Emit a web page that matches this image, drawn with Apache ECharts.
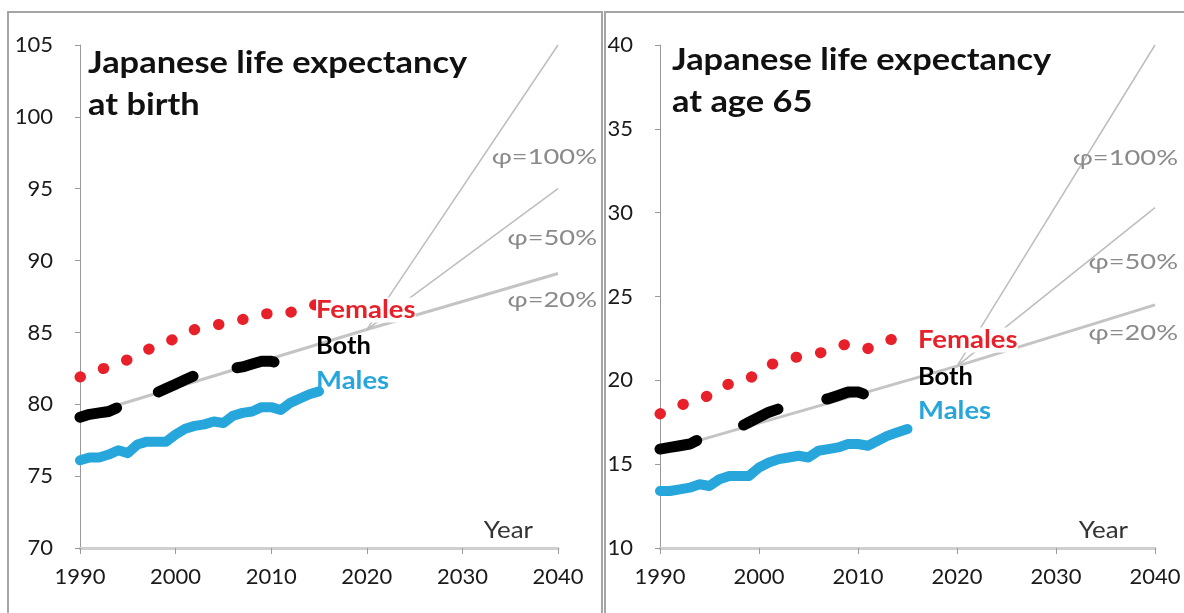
<!DOCTYPE html>
<html>
<head>
<meta charset="utf-8">
<script src="https://cdn.jsdelivr.net/npm/echarts@6/dist/echarts.min.js"></script>
<style>
html,body{margin:0;padding:0;background:#fff;}
#chart{width:1184px;height:613px;}
</style>
</head>
<body>
<div id="chart"></div>
<script>
// ---- Data ----
const years = [1990,1991,1992,1993,1994,1995,1996,1997,1998,1999,2000,2001,2002,2003,2004,2005,2006,2007,2008,2009,2010,2011,2012,2013,2014,2015];
const bothYears = [1990,1991,1992,1993,1994,1995,1996,1997,1998,1999,2000,2001,2002,2003,2004,2005,2006,2007,2008,2009,2010,2011];

const femalesBirth = [81.9,82.1,82.4,82.6,82.9,83.1,83.5,83.8,84.0,84.3,84.6,84.9,85.2,85.3,85.5,85.6,85.8,85.9,86.1,86.3,86.3,86.2,86.4,86.6,86.8,87.0];
const bothBirth    = [79.1,79.3,79.4,79.5,79.8,79.9,80.2,80.5,80.8,81.1,81.4,81.7,82.0,82.1,82.2,82.3,82.5,82.6,82.8,83.0,83.0,82.8];
const malesBirth   = [76.1,76.3,76.3,76.5,76.8,76.6,77.2,77.4,77.4,77.4,77.9,78.3,78.5,78.6,78.8,78.7,79.2,79.4,79.5,79.8,79.8,79.6,80.1,80.4,80.7,80.9];

const females65 = [18.0,18.3,18.5,18.7,18.9,19.1,19.5,19.8,19.9,20.1,20.5,20.9,21.1,21.3,21.4,21.5,21.6,21.8,22.0,22.2,22.1,21.9,22.2,22.4,22.5,22.6];
const both65    = [15.9,16.0,16.1,16.2,16.5,16.5,16.8,17.0,17.2,17.5,17.8,18.1,18.3,18.4,18.5,18.6,18.8,18.9,19.1,19.3,19.3,19.1];
const males65   = [13.4,13.4,13.5,13.6,13.8,13.7,14.1,14.3,14.3,14.3,14.8,15.1,15.3,15.4,15.5,15.4,15.8,15.9,16.0,16.2,16.2,16.1,16.4,16.7,16.9,17.1];

// projections (phi scenarios)
const projYears = [1990, 2020, 2040];
const phi20Birth  = [79.15, 85.2, 89.1];
const phi50Birth  = [null, 85.2, 95.0];
const phi100Birth = [null, 85.2, 105.0];
const phi20Age65  = [15.75, 20.85, 24.5];
const phi50Age65  = [null, 20.85, 30.3];
const phi100Age65 = [null, 20.85, 40.0];

const xTicks = [1990, 2000, 2010, 2020, 2030, 2040];
const yBirthRange = [70, 105];
const yAge65Range = [10, 40];

const titles = ['Japanese life expectancy\nat birth', 'Japanese life expectancy\nat age 65'];
const seriesNames = ['Females', 'Both', 'Males'];
const phiLabels = ['φ=100%', 'φ=50%', 'φ=20%'];

// ---- Helpers ----
const zip = (xs, ys) => xs.map((x, i) => [x, ys[i]]);
const FONT = 'Lato, "Open Sans", sans-serif';
const RED = '#e8202a', BLACK = '#000000', BLUE = '#27a6dc', GRAY = '#bdbdbd';

function panelSeries(idx, fem, both, male, p20, p50, p100, bothDash) {
  const base = {type: 'line', xAxisIndex: idx, yAxisIndex: idx, showSymbol: false, symbol: 'none', silent: true, connectNulls: false};
  return [
    Object.assign({}, base, {name: 'phi20', data: zip(projYears, p20), z: 2, lineStyle: {color: '#c4c4c4', width: 3}}),
    Object.assign({}, base, {name: 'phi50', data: zip(projYears, p50), z: 2, lineStyle: {color: GRAY, width: 1.5}}),
    Object.assign({}, base, {name: 'phi100', data: zip(projYears, p100), z: 2, lineStyle: {color: GRAY, width: 1.5}}),
    Object.assign({}, base, {name: 'Males', data: zip(years, male), z: 3, lineStyle: {color: BLUE, width: 10, cap: 'round', join: 'round'}}),
    Object.assign({}, base, {name: 'Both', data: zip(bothYears, both), z: 3, lineStyle: {color: BLACK, width: 11, type: bothDash, cap: 'round', join: 'round'}}),
    Object.assign({}, base, {name: 'Females', data: zip(years, fem), z: 3, lineStyle: {color: RED, width: 11, type: [0.5, 24.3], cap: 'round', join: 'round'}})
  ];
}

function xAxis(idx) {
  return {
    type: 'value', gridIndex: idx, min: xTicks[0], max: xTicks[xTicks.length - 1], interval: 10,
    axisLine: {show: true, lineStyle: {color: '#cfcfcf', width: 3}},
    axisTick: {show: true, length: 6, lineStyle: {color: '#9a9a9a', width: 1}},
    axisLabel: {color: '#1a1a1a', fontSize: 22, fontFamily: FONT, margin: 18, formatter: v => String(v)},
    splitLine: {show: false}
  };
}
function yAxis(idx, range) {
  return {
    type: 'value', gridIndex: idx, min: range[0], max: range[1], interval: 5,
    axisLine: {show: true, lineStyle: {color: '#9a9a9a', width: 1}},
    axisTick: {show: true, length: 5, lineStyle: {color: '#9a9a9a', width: 1}},
    axisLabel: {color: '#1a1a1a', fontSize: 22, fontFamily: FONT, margin: 27},
    splitLine: {show: false}
  };
}

function txt(x, y, text, opts, sx) {
  return {
    type: 'text', x: x, y: y, z: 10, silent: true, scaleX: sx || 1,
    style: Object.assign({text: text, fontFamily: FONT, verticalAlign: 'middle', align: 'left'}, opts)
  };
}

const chart = echarts.init(document.getElementById('chart'), null, {renderer: 'canvas'});

const TITLE = {fontSize: 31, fontWeight: 'bold', fill: '#111', lineHeight: 42};
const LAB = {fontSize: 25, fontWeight: 'bold'};
const PHI = {fontSize: 22, fill: '#8a8a8a', align: 'right'};

const graphics = [
  {type: 'rect', shape: {x: 8, y: 12, width: 594, height: 640}, z: 0, silent: true, style: {fill: null, stroke: '#a5a5a5', lineWidth: 2}},
  {type: 'rect', shape: {x: 605, y: 12, width: 640, height: 640}, z: 0, silent: true, style: {fill: null, stroke: '#a5a5a5', lineWidth: 2}},
  // titles
  txt(88, 84, titles[0], TITLE, 1.11),
  txt(672, 81, titles[1], TITLE, 1.11),
  // series labels left
  txt(316, 310, seriesNames[0], Object.assign({fill: RED, backgroundColor: '#fff'}, LAB), 1.1),
  txt(316, 346, seriesNames[1], Object.assign({fill: BLACK}, LAB), 1.02),
  txt(316, 381, seriesNames[2], Object.assign({fill: BLUE}, LAB), 1.1),
  // series labels right
  txt(918, 340, seriesNames[0], Object.assign({fill: RED, backgroundColor: '#fff'}, LAB), 1.1),
  txt(918, 377, seriesNames[1], Object.assign({fill: BLACK}, LAB), 1.02),
  txt(918, 411, seriesNames[2], Object.assign({fill: BLUE}, LAB), 1.1),
  // phi labels left
  txt(597, 157, phiLabels[0], PHI, 1.24),
  txt(597, 238, phiLabels[1], PHI, 1.24),
  txt(597, 300, phiLabels[2], PHI, 1.24),
  // phi labels right
  txt(1178, 158, phiLabels[0], PHI, 1.24),
  txt(1178, 262, phiLabels[1], PHI, 1.24),
  txt(1178, 333, phiLabels[2], PHI, 1.24),
  // Year labels
  txt(533, 530, 'Year', {fontSize: 24, fill: '#333', align: 'right'}, 1.08),
  txt(1128, 530, 'Year', {fontSize: 24, fill: '#333', align: 'right'}, 1.08)
];

chart.setOption({
  animation: false,
  backgroundColor: '#ffffff',
  grid: [
    {left: 80, top: 45, width: 478, height: 503},
    {left: 660, top: 45, width: 495, height: 503}
  ],
  xAxis: [xAxis(0), xAxis(1)],
  yAxis: [yAxis(0, yBirthRange), yAxis(1, yAge65Range)],
  series: [].concat(
    panelSeries(0, femalesBirth, bothBirth, malesBirth, phi20Birth, phi50Birth, phi100Birth, [38, 45]),
    panelSeries(1, females65, both65, males65, phi20Age65, phi50Age65, phi100Age65, [38, 50])
  ),
  graphic: graphics
});
</script>
</body>
</html>
